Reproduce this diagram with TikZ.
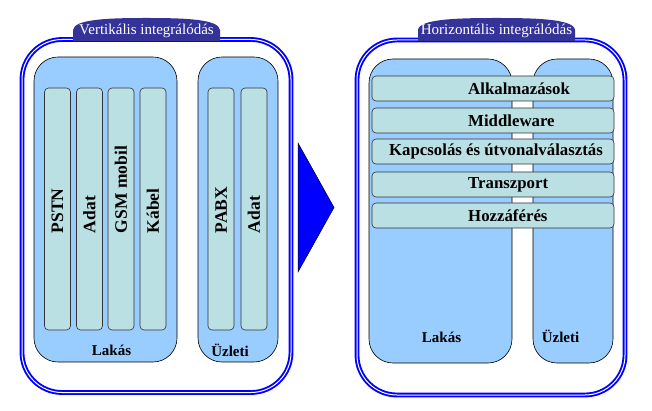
\documentclass[tikz,border=0pt]{standalone}
\usepackage{fontspec}
\setmainfont{Liberation Serif}
\usepackage{tikz}
\usetikzlibrary{positioning,calc}
\usepackage{xcolor}
\definecolor{igBlue}{HTML}{0000FF}
\definecolor{igNavy}{HTML}{333399}
\definecolor{igSky}{HTML}{99CCFF}
\definecolor{igTeal}{HTML}{BBE0E3}
\newcommand{\igtab}[4]{%
  \fill[igNavy] ({#1-#2},41) -- ({#1-#2},30) .. controls ({#1-#2+1},19) and ({#1-#2/2},18) .. (#1,18)
    .. controls ({#1+#2/2},18) and ({#1+#2-1},19) .. ({#1+#2},30) -- ({#1+#2},41) -- cycle;
  \node[ttl] (#3) at (#1,31) {#4};}

\begin{document}
\begin{tikzpicture}[x=1pt, y=-1pt,
  frame/.style={draw=igBlue, double=white, double distance=1pt, line width=1.9pt, rounded corners=40pt, minimum width=#1, inner sep=0pt},
  seg/.style={draw=black, line width=0.6pt, fill=igSky, rounded corners=24pt, inner sep=0pt, minimum height=305pt},
  col/.style={draw=black!80, line width=0.6pt, fill=igTeal, rounded corners=4pt, inner sep=0pt, minimum width=26pt, minimum height=242pt},
  bar/.style={draw=black!80, line width=0.6pt, fill=igTeal, rounded corners=4pt, inner sep=0pt, minimum width=242pt, minimum height=25pt},
  ttl/.style={text=white, font=\fontsize{15}{17}\selectfont, inner sep=0pt},
  collbl/.style={rotate=90, anchor=west, inner sep=0pt, font=\bfseries\fontsize{17.5}{20}\selectfont},
  barlbl/.style={inner sep=0pt, font=\bfseries\fontsize{16.8}{19}\selectfont},
  seglbl/.style={inner sep=0pt, font=\bfseries\fontsize{15}{17}\selectfont}]
\useasboundingbox (0,0) rectangle (652,411);

% -- vertikalis
\node[frame=269pt, minimum height=353pt] (vframe) at (156.5,216) {};
\igtab{146.5}{73.5}{vtitle}{Vertikális integrálódás}
\node[seg, minimum width=143pt] (vlakas) at (105.5,209.5) {};
\node[seg, minimum width=80pt] (vuzleti) at (238,209.5) {};
\foreach \nm/\cx/\txt in {pstn/57.5/PSTN, vadat/89.5/Adat, gsm/121/GSM mobil, kabel/153/Kábel, pabx/221/PABX, uadat/254/Adat}{
  \node[col] (\nm) at (\cx,209) {};
  \node[collbl] (\nm-l) at ([yshift=97pt]\nm.south) {\txt};
}
\node[seglbl] (vlakas-l) at (111.5,350) {Lakás};
\node[seglbl] (vuzleti-l) at (230,350) {Üzleti};

% -- nyil
\draw[fill=igBlue, draw=black, line width=0.5pt] (298,143) -- (334,207.5) -- (298,272) -- cycle;

% -- horizontalis
\node[frame=268pt, minimum height=355pt] (hframe) at (491,217.5) {};
\igtab{496.5}{78.5}{htitle}{Horizontális integrálódás}
\node[seg, minimum width=143pt, minimum height=304pt] (hlakas) at (440.5,211) {};
\node[seg, minimum width=80pt, minimum height=304pt] (huzleti) at (573,211) {};
\foreach \nm/\cy in {alk/88.5, mid/120.5, kap/151.5, tra/184.5, hoz/215.5}{
  \node[bar] (\nm) at (493,\cy) {};
}
\node[barlbl, anchor=west] (alk-l) at (468,88.5) {Alkalmazások};
\node[barlbl, anchor=west] (mid-l) at (468,120.5) {Middleware};
\node[barlbl] (kap-l) at (496,151.5) {Kapcsolás és útvonalválasztás};
\node[barlbl, anchor=west] (tra-l) at (468,184.5) {Transzport};
\node[barlbl, anchor=west] (hoz-l) at (468,215.5) {Hozzáférés};
\node[seglbl] (hlakas-l) at (441.5,337.5) {Lakás};
\node[seglbl] (huzleti-l) at (560.5,336.5) {Üzleti};
\end{tikzpicture}
\end{document}
